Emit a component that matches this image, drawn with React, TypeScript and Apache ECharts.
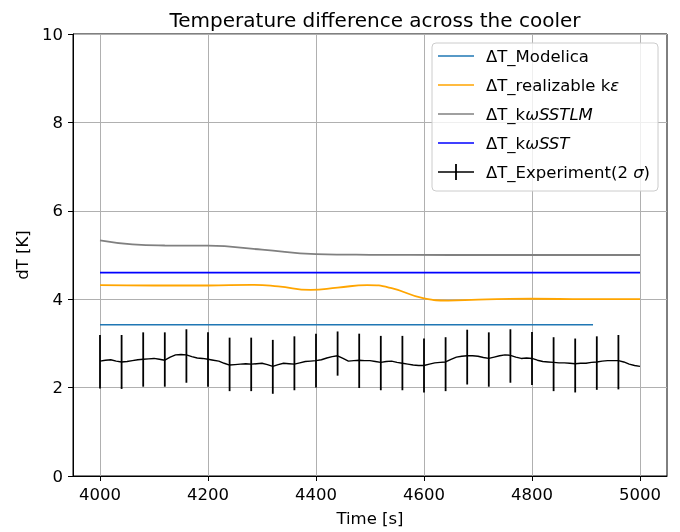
import React, { useEffect, useRef } from 'react';
import * as echarts from 'echarts';

const TITLE = 'Temperature difference across the cooler';
const X_NAME = 'Time [s]';
const Y_NAME = 'dT [K]';
const X_MIN = 4000;
const X_MAX = 5000;
const X_STEP = 200;
const Y_MIN = 0;
const Y_MAX = 10;
const Y_STEP = 2;

const SERIES_NAMES = [
  'ΔT_Modelica',
  'ΔT_realizable kε',
  'ΔT_kωSSTLM',
  'ΔT_kωSST',
  'ΔT_Experiment(2 σ)',
];

const MODELICA = [
  [4000, 3.42],
  [4913, 3.42],
];
const REALIZABLE = [
  [4000, 4.32], [4100, 4.31], [4200, 4.31], [4280, 4.325], [4330, 4.29], [4390, 4.21],
  [4440, 4.26], [4495, 4.32], [4540, 4.25], [4600, 4.02], [4645, 3.97], [4700, 3.99],
  [4800, 4.01], [4900, 4.0], [5000, 4.0],
];
const SSTLM = [
  [4000, 5.33], [4060, 5.24], [4120, 5.215], [4200, 5.21], [4300, 5.12], [4400, 5.02],
  [4500, 5.005], [4650, 5.0], [5000, 5.0],
];
const SST = [
  [4000, 4.6],
  [5000, 4.6],
];

const EXP_START = 4000;
const EXP_STEP = 10;
const EXP_VALUES = [
  2.60, 2.62, 2.63, 2.60, 2.58, 2.59, 2.61, 2.63, 2.64, 2.65,
  2.66, 2.64, 2.62, 2.69, 2.74, 2.75, 2.74, 2.70, 2.67, 2.66,
  2.64, 2.62, 2.60, 2.55, 2.51, 2.52, 2.53, 2.54, 2.53, 2.54,
  2.55, 2.52, 2.48, 2.52, 2.55, 2.54, 2.53, 2.56, 2.59, 2.60,
  2.61, 2.63, 2.67, 2.70, 2.72, 2.66, 2.60, 2.61, 2.62, 2.61,
  2.61, 2.59, 2.57, 2.59, 2.60, 2.57, 2.55, 2.53, 2.51, 2.50,
  2.50, 2.53, 2.56, 2.57, 2.58, 2.64, 2.69, 2.71, 2.72, 2.72,
  2.71, 2.68, 2.66, 2.69, 2.72, 2.74, 2.73, 2.69, 2.66, 2.67,
  2.66, 2.62, 2.59, 2.58, 2.57, 2.56, 2.56, 2.55, 2.54, 2.55,
  2.55, 2.57, 2.58, 2.60, 2.61, 2.61, 2.61, 2.58, 2.53, 2.50,
  2.48,
];

const ERR_T = [
  4000, 4040, 4080, 4120, 4160, 4200, 4240, 4280, 4320, 4360, 4400, 4440, 4480,
  4520, 4560, 4600, 4640, 4680, 4720, 4760, 4800, 4840, 4880, 4920, 4960,
];
const ERR_LOW = [
  1.98, 1.97, 2.02, 2.02, 2.11, 2.02, 1.92, 1.92, 1.86, 1.94, 2.0, 2.27, 1.99,
  1.94, 1.94, 1.89, 1.92, 2.07, 2.02, 2.11, 2.06, 1.92, 1.89, 1.95, 1.96,
];
const ERR_HIGH = [
  3.19, 3.19, 3.25, 3.25, 3.32, 3.25, 3.13, 3.13, 3.08, 3.16, 3.22, 3.27, 3.22,
  3.17, 3.17, 3.11, 3.14, 3.31, 3.25, 3.32, 3.26, 3.14, 3.11, 3.16, 3.19,
];

const COLORS = ['#1f77b4', '#ffa500', '#808080', '#0000ff', '#000000'];
const FONT = 'DejaVu Sans';

const LINE_ICON = 'path://M0,0h36v1.6h-36z';
const CROSS_ICON = 'path://M0,7.2h36v1.6h-36z M17.1,0h1.8v16h-1.8z';

const LEGEND_RICH: Record<string, string> = {
  'ΔT_Modelica': '{g| }{n|ΔT_Modelica}',
  'ΔT_realizable kε': '{g| }{n|ΔT_realizable k}{i|ε}',
  'ΔT_kωSSTLM': '{g| }{n|ΔT_k}{i|ωSSTLM}',
  'ΔT_kωSST': '{g| }{n|ΔT_k}{i|ωSST}',
  'ΔT_Experiment(2 σ)': '{g| }{n|ΔT_Experiment(2 }{i|σ}{n|)}',
};

export default function App() {
  const ref = useRef<HTMLDivElement>(null);
  useEffect(() => {
    if (!ref.current) return;
    const chart = echarts.init(ref.current, undefined, { renderer: 'svg' });
    const lineSeries = (name: string, data: number[][], color: string, width: number, smooth: boolean) => ({
      type: 'line',
      name,
      xAxisIndex: 0,
      yAxisIndex: 0,
      data,
      showSymbol: false,
      symbol: 'none',
      smooth: smooth ? 0.5 : false,
      color,
      lineStyle: { color, width },
      z: 3,
    });
    chart.setOption({
      animation: false,
      textStyle: { fontFamily: FONT },
      title: {
        text: TITLE,
        left: 370,
        top: 5,
        textAlign: 'center',
        textStyle: { fontSize: 20, fontWeight: 'normal', color: '#000', fontFamily: FONT },
      },
      grid: [
        { left: 73, top: 34, right: 13, bottom: 56, show: true, borderColor: '#000', borderWidth: 1, backgroundColor: 'transparent' },
        { left: 100, top: 34, right: 40, bottom: 56 },
      ],
      xAxis: [
        {
          type: 'value', gridIndex: 0, min: X_MIN - 50, max: X_MAX + 50,
          axisLine: { show: true, lineStyle: { color: '#000', width: 1 } },
          axisTick: { show: false }, axisLabel: { show: false }, splitLine: { show: false },
        },
        {
          type: 'value', gridIndex: 1, min: X_MIN, max: X_MAX, interval: X_STEP,
          axisLine: { show: false },
          axisTick: { show: true, length: 5, lineStyle: { color: '#000', width: 1 } },
          axisLabel: {
            show: true, fontSize: 16.5, color: '#000', margin: 10, fontFamily: FONT,
            formatter: (v: number) => String(v),
          },
          splitLine: { show: true, lineStyle: { color: '#b0b0b0', width: 1 } },
          name: X_NAME, nameLocation: 'middle', nameGap: 34,
          nameTextStyle: { fontSize: 16.5, color: '#000', fontFamily: FONT },
        },
      ],
      yAxis: [
        {
          type: 'value', gridIndex: 0, min: Y_MIN, max: Y_MAX, interval: Y_STEP,
          axisLine: { show: true, lineStyle: { color: '#000', width: 1 } },
          axisTick: { show: true, length: 5, lineStyle: { color: '#000', width: 1 } },
          axisLabel: { show: true, fontSize: 16.5, color: '#000', margin: 10, fontFamily: FONT },
          splitLine: { show: true, lineStyle: { color: '#b0b0b0', width: 1 } },
          name: Y_NAME, nameLocation: 'middle', nameGap: 41, nameRotate: 90,
          nameTextStyle: { fontSize: 16.5, color: '#000', fontFamily: FONT },
        },
        { type: 'value', gridIndex: 1, min: Y_MIN, max: Y_MAX, show: false },
      ],
      legend: {
        orient: 'vertical',
        left: 432,
        top: 43,
        padding: [4, 8, 10, 6],
        itemGap: 11,
        itemWidth: 36,
        itemHeight: 16,
        selectedMode: false,
        backgroundColor: 'rgba(255,255,255,0.8)',
        borderColor: '#cccccc',
        borderWidth: 1,
        borderRadius: 4,
        data: SERIES_NAMES.map((n, i) => ({ name: n, icon: i === 4 ? CROSS_ICON : LINE_ICON })),
        formatter: (name: string) => LEGEND_RICH[name] || name,
        textStyle: {
          fontSize: 16.5,
          color: '#000',
          fontFamily: FONT,
          lineHeight: 18,
          rich: {
            g: { width: 7, fontSize: 16.5, lineHeight: 18 },
            n: { fontSize: 16.5, color: '#000', fontFamily: FONT, lineHeight: 18 },
            i: { fontSize: 16.5, color: '#000', fontFamily: FONT, fontStyle: 'italic', lineHeight: 18 },
          },
        },
      },
      series: [
        lineSeries(SERIES_NAMES[0], MODELICA, COLORS[0], 1.5, false),
        lineSeries(SERIES_NAMES[1], REALIZABLE, COLORS[1], 1.8, true),
        lineSeries(SERIES_NAMES[2], SSTLM, COLORS[2], 1.8, true),
        lineSeries(SERIES_NAMES[3], SST, COLORS[3], 1.8, false),
        lineSeries(
          SERIES_NAMES[4],
          EXP_VALUES.map((v, i) => [EXP_START + i * EXP_STEP, v]),
          COLORS[4],
          1.4,
          false,
        ),
        {
          type: 'custom',
          name: 'errorbars',
          xAxisIndex: 0,
          yAxisIndex: 0,
          data: ERR_T.map((t, i) => [t, ERR_LOW[i], ERR_HIGH[i]]),
          encode: { x: 0, y: [1, 2] },
          z: 4,
          renderItem: (params: any, api: any) => {
            const lo = api.coord([api.value(0), api.value(1)]);
            const hi = api.coord([api.value(0), api.value(2)]);
            return {
              type: 'line',
              shape: { x1: lo[0], y1: lo[1], x2: hi[0], y2: hi[1] },
              style: { stroke: '#000', lineWidth: 1.8 },
            };
          },
        },
      ],
    });
    return () => chart.dispose();
  }, []);
  return <div ref={ref} style={{ position: 'fixed', left: 0, top: 0, width: 680, height: 532 }} />;
}
